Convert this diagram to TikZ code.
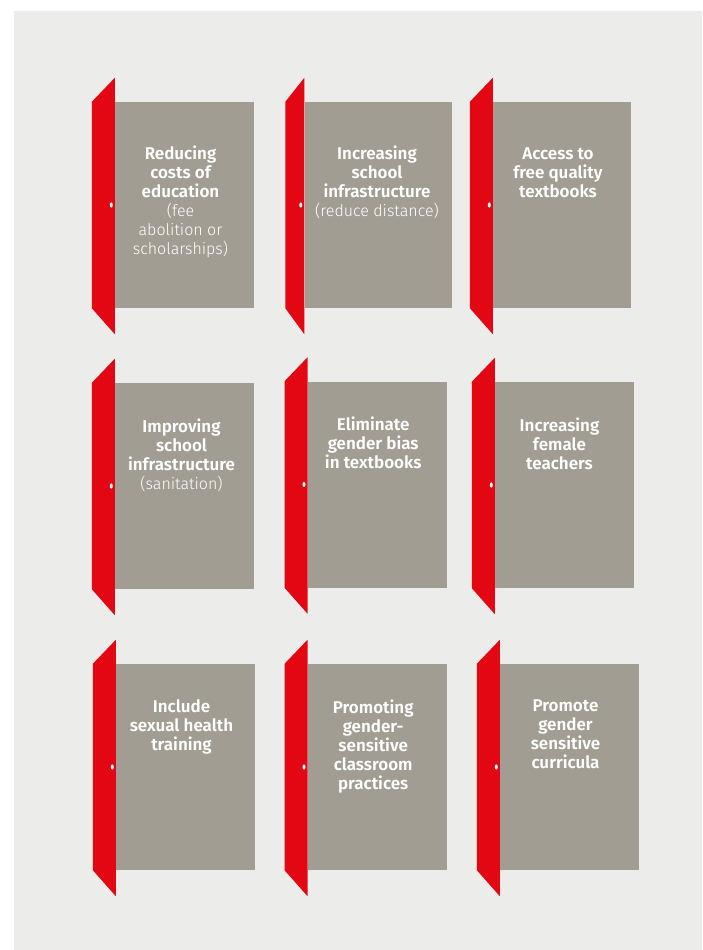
\documentclass[tikz,border=0pt]{standalone}
\usepackage{fontspec}
\setmainfont{Fira Sans}[BoldFont={Fira Sans SemiBold}]
\newfontfamily\lightfont{Fira Sans Light}
\newcommand\aside[1]{{\lightfont\mdseries\fontsize{16}{19}\selectfont #1}}
\usetikzlibrary{positioning}

\definecolor{doorred}{RGB}{227,6,19}
\definecolor{leafgrey}{RGB}{161,157,147}
\definecolor{panelgrey}{RGB}{236,236,234}

\begin{document}
\begin{tikzpicture}[
    x=1pt, y=-1pt,
    leaf/.style={fill=leafgrey, inner sep=0pt, minimum width=139pt, minimum height=206pt},
    caption/.style={anchor=north, align=center, text=white, inner sep=0pt,
        font=\fontsize{17}{19}\selectfont\bfseries, execute at begin node=\strut}
]
\useasboundingbox (0,0) rectangle (703,950);
\fill[panelgrey] (14,11) rectangle (702,950);

% door leaves
\node[leaf]                       (d1) at (184.5,205) {};
\node[leaf, minimum width=147pt]  (d2) at (378,205)   {};
\node[leaf, minimum width=138pt]  (d3) at (562,205)   {};
\node[leaf]                       (d4) at (184.5,486) {};
\node[leaf]                       (d5) at (377.2,484.5) {};
\node[leaf]                       (d6) at (564.5,485) {};
\node[leaf]                       (d7) at (185.5,767) {};
\node[leaf]                       (d8) at (377.2,767) {};
\node[leaf]                       (d9) at (569.5,767) {};

% open red door panels with knobs
\foreach \d/\w in {d1/23, d2/19, d3/23, d4/23, d5/23, d6/23, d7/23, d8/23, d9/23} {
    \fill[doorred] ([yshift=24pt]\d.north west) -- ([xshift=-\w pt]\d.north west)
        -- ([xshift=-\w pt]\d.south west) -- ([yshift=-26pt]\d.south west) -- cycle;
    \fill[white] (\d.west) ++(-3.5,0) ellipse [x radius=1.5, y radius=2.6];
}

% labels (first baseline 57pt below the top in row one, 49pt below elsewhere)
\node[caption] (t1) at ([xshift=-4pt, yshift=-43.7pt]d1.north)
    {Reducing\\costs of\\education\\\aside{(fee}\\\aside{abolition or}\\\aside{scholarships)}};
\node[caption] (t2) at ([xshift=-1pt, yshift=-43.7pt]d2.north)
    {Increasing\\school\\infrastructure\\\aside{(reduce distance)}};
\node[caption] (t3) at ([xshift=-4pt, yshift=-45.5pt]d3.north)
    {Access to\\free quality\\textbooks};
\node[caption] (t4) at ([xshift=-3pt, yshift=-35.7pt]d4.north)
    {Improving\\school\\infrastructure\\\aside{(sanitation)}};
\node[caption] (t5) at ([xshift=-4pt, yshift=-35.7pt]d5.north)
    {Eliminate\\gender bias\\in textbooks};
\node[caption] (t6) at ([xshift=-5pt, yshift=-35.7pt]d6.north)
    {Increasing\\female\\teachers};
\node[caption] (t7) at ([xshift=-4pt, yshift=-35.7pt]d7.north)
    {Include\\sexual health\\training};
\node[caption] (t8) at ([xshift=-4pt, yshift=-35.7pt]d8.north)
    {Promoting\\gender-\\sensitive\\classroom\\practices};
\node[caption] (t9) at ([xshift=-4pt, yshift=-35.7pt]d9.north)
    {Promote\\gender\\sensitive\\curricula};
\end{tikzpicture}
\end{document}
